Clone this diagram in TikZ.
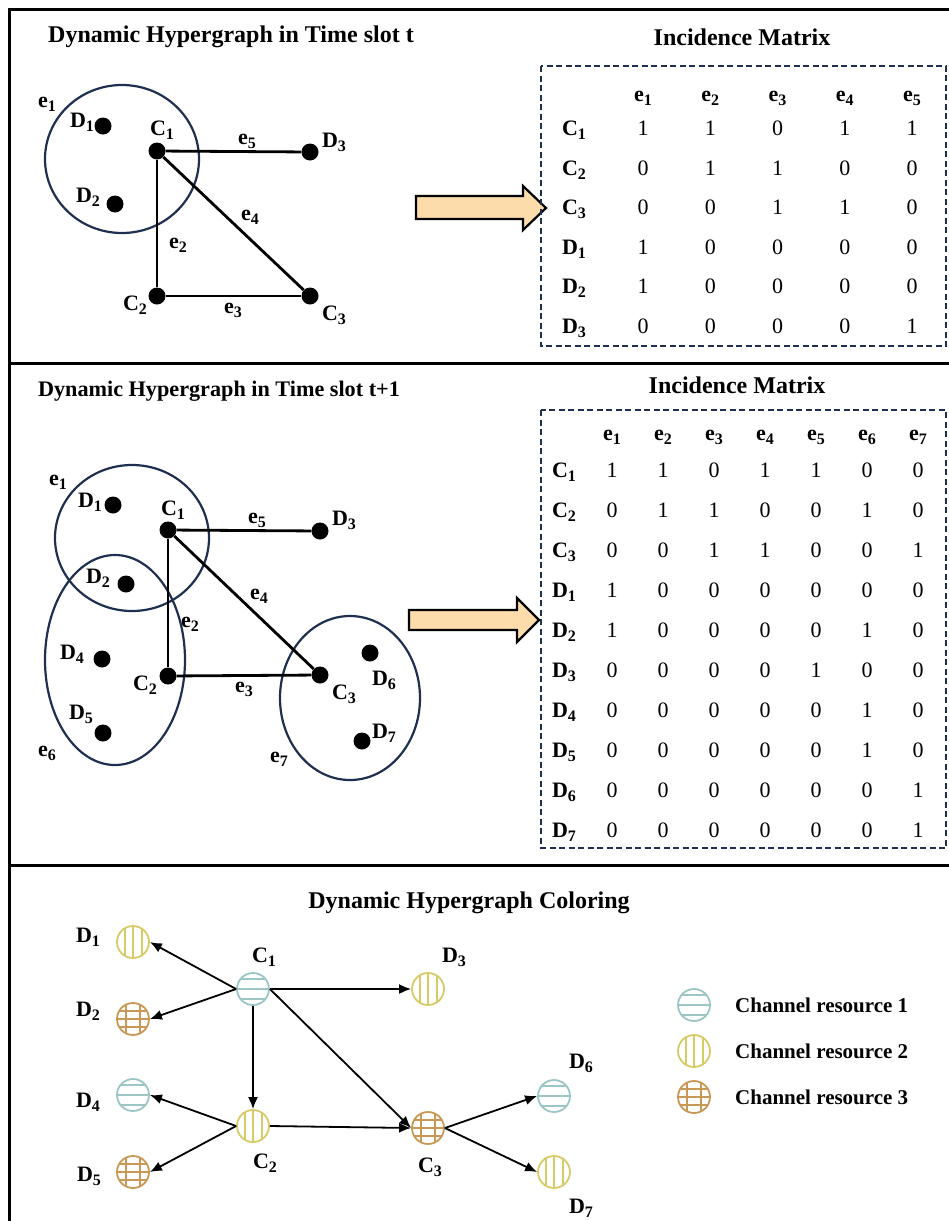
\documentclass[tikz,border=0pt]{standalone}
\usepackage{fontspec}
\setmainfont{Liberation Serif}
\usetikzlibrary{arrows.meta,shapes.geometric}

\definecolor{hyperblue}{HTML}{1F2F4F}
\definecolor{chone}{HTML}{9CC5C6}
\definecolor{chtwo}{HTML}{D6CB66}
\definecolor{chthree}{HTML}{C99856}
\definecolor{arrowfill}{HTML}{FCDCAA}

% lowered index for the vertex and edge names
\newcommand{\idx}[1]{\raisebox{-0.4ex}{\fontsize{16}{16}\selectfont #1}}

\tikzset{
	vertex/.style={circle, fill=black, inner sep=0pt, minimum size=17pt},
	hyperedge/.style={ellipse, draw=hyperblue, line width=2.2pt, inner sep=0pt},
	link/.style={black, line width=2.8pt},
	flow/.style={black, line width=1.8pt, -{Latex[length=12pt,width=10pt]}},
	lbl/.style={font=\fontsize{22}{24}\selectfont\bfseries, inner sep=0pt},
	entry/.style={font=\fontsize{22}{24}\selectfont, inner sep=0pt, anchor=base},
	headline/.style={font=\fontsize{24}{28}\selectfont\bfseries, inner sep=0pt},
	legendtext/.style={font=\fontsize{21}{24}\selectfont\bfseries, inner sep=0pt, anchor=west},
	matbox/.style={draw=hyperblue, line width=1.6pt, dash pattern=on 6pt off 3.5pt},
	bigarrow/.style={draw=black, fill=arrowfill, line width=2.2pt, line join=miter},
	frame/.style={black, line width=3pt},
	res/.style={circle, inner sep=0pt, minimum size=32pt, line width=1.8pt},
	% channel resource 1: horizontal stripes
	res1/.style={res, draw=chone, path picture={
		\foreach \k in {-10,0,10}
			\draw[chone, line width=1.4pt] ([yshift=\k]path picture bounding box.west) -- ([yshift=\k]path picture bounding box.east);}},
	% channel resource 2: vertical stripes
	res2/.style={res, draw=chtwo, path picture={
		\foreach \k in {-8,0,9}
			\draw[chtwo, line width=1.4pt] ([xshift=\k]path picture bounding box.north) -- ([xshift=\k]path picture bounding box.south);}},
	% channel resource 3: grid
	res3/.style={res, draw=chthree, path picture={
		\foreach \k in {-7,7}
			\draw[chthree, line width=1.4pt] ([xshift=\k]path picture bounding box.north) -- ([xshift=\k]path picture bounding box.south);
		\foreach \k in {-8,0,8}
			\draw[chthree, line width=1.4pt] ([yshift=\k]path picture bounding box.west) -- ([yshift=\k]path picture bounding box.east);}}
}

\begin{document}
\begin{tikzpicture}[x=1pt,y=-1pt]
		\useasboundingbox (0,0) rectangle (949,1221);

		% outer frame and separators
		\draw[frame] (9.5,1221) -- (9.5,9.5) -- (949,9.5);
		\draw[frame] (9.5,363.5) -- (949,363.5);
		\draw[frame] (9.5,865.5) -- (949,865.5);

		% -----------------------------------------------------
		% time slot t
		\node[headline] (title-a) at (231,37) {Dynamic Hypergraph in Time slot t};
		\node[headline] (mtitle-a) at (742,37) {Incidence Matrix};

		\node[hyperedge, minimum width=154pt, minimum height=148pt] (he1-a) at (122,159) {};

		\node[vertex] (d1-a) at (103,126) {};
		\node[vertex] (d2-a) at (115,204) {};
		\node[vertex] (c1-a) at (157,151) {};
		\node[vertex] (d3-a) at (310,152) {};
		\node[vertex] (c2-a) at (157,296) {};
		\node[vertex] (c3-a) at (310,296) {};

		\draw[link] (c1-a) -- (d3-a);
		\draw[link] (c1-a) -- (c2-a);
		\draw[link] (c2-a) -- (c3-a);
		\draw[link] (c1-a) -- (c3-a);

		\node[lbl] (le1-a) at (47,104) {e\idx{1}};
		\node[lbl] (ld1-a) at (82,122) {D\idx{1}};
		\node[lbl] (lc1-a) at (162,130) {C\idx{1}};
		\node[lbl] (ld2-a) at (88,197) {D\idx{2}};
		\node[lbl] (ld3-a) at (334,142) {D\idx{3}};
		\node[lbl] (le5-a) at (247,141) {e\idx{5}};
		\node[lbl] (le4-a) at (250,217) {e\idx{4}};
		\node[lbl] (le2-a) at (178,245) {e\idx{2}};
		\node[lbl] (lc2-a) at (135,305) {C\idx{2}};
		\node[lbl] (le3-a) at (233,310) {e\idx{3}};
		\node[lbl] (lc3-a) at (334,315) {C\idx{3}};

		\draw[bigarrow] (416,196) -- (523,196) -- (523,186) -- (546,208) -- (523,230) -- (523,219) -- (416,219) -- cycle;

		\draw[matbox] (541,66) rectangle (946,346);
		\foreach \c in {1,...,5}
			\node[lbl, anchor=base] (ha-\c) at ({643+67.25*(\c-1)},101) {e\idx{\c}};
		\foreach \l/\i/\vals [count=\r] in {C/1/{1,1,0,1,1}, C/2/{0,1,1,0,0}, C/3/{0,0,1,1,0},
				D/1/{1,0,0,0,0}, D/2/{1,0,0,0,0}, D/3/{0,0,0,0,1}}{
			\node[lbl, anchor=base] (ra-\r) at (574,{135.5+39.6*(\r-1)}) {\l\idx{\i}};
			\foreach \v [count=\c] in \vals
				\node[entry] (ma-\r-\c) at ({643+67.25*(\c-1)},{135.5+39.6*(\r-1)}) {\v};
		}

		% -----------------------------------------------------
		% time slot t+1
		\node[headline, font=\fontsize{22.2}{26}\selectfont\bfseries] (title-b) at (219,391) {Dynamic Hypergraph in Time slot t+1};
		\node[headline] (mtitle-b) at (737,385) {Incidence Matrix};

		\node[hyperedge, minimum width=154pt, minimum height=146pt] (he1-b) at (132,538) {};
		\node[hyperedge, minimum width=140pt, minimum height=210pt] (he6-b) at (115,660) {};
		\node[hyperedge, minimum width=140pt, minimum height=164pt] (he7-b) at (350,698) {};

		\node[vertex] (d1-b) at (113,505) {};
		\node[vertex] (c1-b) at (168,530) {};
		\node[vertex] (d3-b) at (320,531) {};
		\node[vertex] (d2-b) at (126,584) {};
		\node[vertex] (d4-b) at (102,659) {};
		\node[vertex] (c2-b) at (168,676) {};
		\node[vertex] (c3-b) at (320,675) {};
		\node[vertex] (d6-b) at (370,653) {};
		\node[vertex] (d5-b) at (103,733) {};
		\node[vertex] (d7-b) at (362,741) {};

		\draw[link] (c1-b) -- (d3-b);
		\draw[link] (c1-b) -- (c2-b);
		\draw[link] (c2-b) -- (c3-b);
		\draw[link] (c1-b) -- (c3-b);

		\node[lbl] (le1-b) at (58,482) {e\idx{1}};
		\node[lbl] (ld1-b) at (90,502) {D\idx{1}};
		\node[lbl] (lc1-b) at (173,510) {C\idx{1}};
		\node[lbl] (le5-b) at (257,520) {e\idx{5}};
		\node[lbl] (ld3-b) at (344,520) {D\idx{3}};
		\node[lbl] (ld2-b) at (98,578) {D\idx{2}};
		\node[lbl] (le4-b) at (259,596) {e\idx{4}};
		\node[lbl] (le2-b) at (190,624) {e\idx{2}};
		\node[lbl] (ld4-b) at (72,654) {D\idx{4}};
		\node[lbl] (lc2-b) at (145,685) {C\idx{2}};
		\node[lbl] (le3-b) at (244,689) {e\idx{3}};
		\node[lbl] (lc3-b) at (344,694) {C\idx{3}};
		\node[lbl] (ld6-b) at (384,680) {D\idx{6}};
		\node[lbl] (ld5-b) at (81,714) {D\idx{5}};
		\node[lbl] (ld7-b) at (384,733) {D\idx{7}};
		\node[lbl] (le6-b) at (47,753) {e\idx{6}};
		\node[lbl] (le7-b) at (279,759) {e\idx{7}};

		\draw[bigarrow] (409,610) -- (517,610) -- (517,598) -- (539,620) -- (517,642) -- (517,630) -- (409,630) -- cycle;

		\draw[matbox] (541,410) rectangle (946,848);
		\foreach \c in {1,...,7}
			\node[lbl, anchor=base] (hb-\c) at ({612+51*(\c-1)},440) {e\idx{\c}};
		\foreach \l/\i/\vals [count=\r] in {C/1/{1,1,0,1,1,0,0}, C/2/{0,1,1,0,0,1,0}, C/3/{0,0,1,1,0,0,1},
				D/1/{1,0,0,0,0,0,0}, D/2/{1,0,0,0,0,1,0}, D/3/{0,0,0,0,1,0,0}, D/4/{0,0,0,0,0,1,0},
				D/5/{0,0,0,0,0,1,0}, D/6/{0,0,0,0,0,0,1}, D/7/{0,0,0,0,0,0,1}}{
			\node[lbl, anchor=base] (rb-\r) at (564,{477.5+40*(\r-1)}) {\l\idx{\i}};
			\foreach \v [count=\c] in \vals
				\node[entry] (mb-\r-\c) at ({612+51*(\c-1)},{477.5+40*(\r-1)}) {\v};
		}

		% -----------------------------------------------------
		% colouring
		\node[headline] (title-c) at (469,903) {Dynamic Hypergraph Coloring};

		\node[res2] (d1-c) at (133,942) {};
		\node[res3] (d2-c) at (133,1019) {};
		\node[res1] (c1-c) at (253,989) {};
		\node[res2] (d3-c) at (428,989) {};
		\node[res1] (d4-c) at (133,1095) {};
		\node[res2] (c2-c) at (253,1126) {};
		\node[res3] (c3-c) at (428,1128) {};
		\node[res3] (d5-c) at (133,1172) {};
		\node[res1] (d6-c) at (554,1096) {};
		\node[res2] (d7-c) at (554,1172) {};

		\draw[flow] (c1-c.west) -- (d1-c.east);
		\draw[flow] (c1-c.west) -- (d2-c.east);
		\draw[flow] (c1-c.east) -- (d3-c.west);
		\draw[flow] (c1-c.south) -- (c2-c.north);
		\draw[flow] (c1-c.east) -- (c3-c.west);
		\draw[flow] (c2-c.west) -- (d4-c.east);
		\draw[flow] (c2-c.west) -- (d5-c.east);
		\draw[flow] (c2-c.east) -- (c3-c.west);
		\draw[flow] (c3-c.east) -- (d6-c.west);
		\draw[flow] (c3-c.east) -- (d7-c.west);

		\node[lbl] (ld1-c) at (88,937) {D\idx{1}};
		\node[lbl] (ld2-c) at (88,1011) {D\idx{2}};
		\node[lbl] (lc1-c) at (264,957) {C\idx{1}};
		\node[lbl] (ld3-c) at (454,957) {D\idx{3}};
		\node[lbl] (ld4-c) at (88,1102) {D\idx{4}};
		\node[lbl] (lc2-c) at (265,1163) {C\idx{2}};
		\node[lbl] (lc3-c) at (430,1167) {C\idx{3}};
		\node[lbl] (ld5-c) at (89,1176) {D\idx{5}};
		\node[lbl] (ld6-c) at (581,1063) {D\idx{6}};
		\node[lbl] (ld7-c) at (581,1208) {D\idx{7}};

		% legend
		\node[res1] (key1) at (694,1005) {};
		\node[res2] (key2) at (694,1051) {};
		\node[res3] (key3) at (694,1097) {};
		\node[legendtext] (key1-text) at (735,1005) {Channel resource 1};
		\node[legendtext] (key2-text) at (735,1051) {Channel resource 2};
		\node[legendtext] (key3-text) at (735,1097) {Channel resource 3};

\end{tikzpicture}
\end{document}
